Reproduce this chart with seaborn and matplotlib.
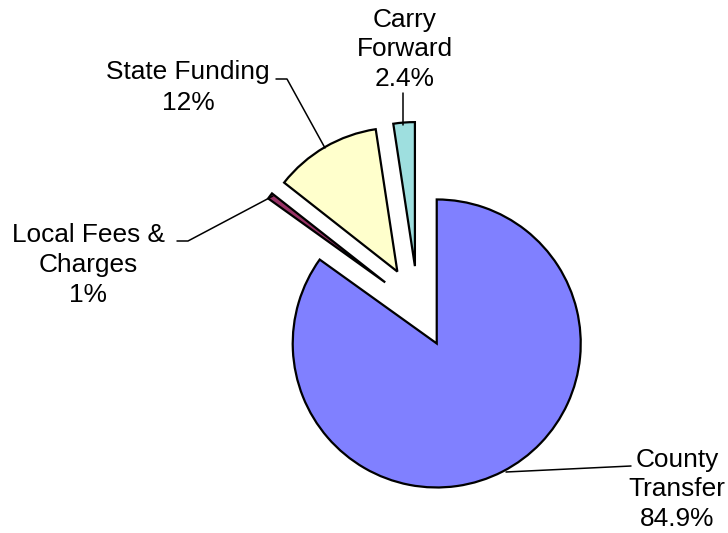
import matplotlib
matplotlib.use("Agg")
import matplotlib.pyplot as plt
import seaborn as sns

sns.set_theme(style="white")
plt.rcParams['font.family'] = ['Liberation Sans', 'DejaVu Sans']

# Data
categories = ["County Transfer", "Local Fees & Charges", "State Funding", "Carry Forward"]
values = [84.9, 0.7, 12.0, 2.4]
label_texts = [["County", "Transfer", "84.9%"],
               ["Local Fees &", "Charges", "1%"],
               ["State Funding", "12%"],
               ["Carry", "Forward", "2.4%"]]
colors = ["#8080FF", "#993366", "#FFFFCC", "#9EDFDF"]

W, H = 728, 533
fig = plt.figure(figsize=(W / 100, H / 100), dpi=100)
ax = fig.add_axes([0, 0, 1, 1])


def Y(y):
    return H - y


# matplotlib's explode is in data units (radius 144 px -> offset 41 px)
ax.pie(values, colors=colors, startangle=90, counterclock=False,
       explode=[41] * 4, center=(418, Y(307)), radius=144,
       wedgeprops=dict(edgecolor="black", linewidth=1.6))

ax.set_xlim(0, W)
ax.set_ylim(0, H)
ax.set_aspect("equal")
ax.axis("off")

fs = 18.9
# label placement: (center x, first baseline y, line spacing)
label_pos = [(677, 467, 29.5), (88, 242, 30), (188, 79, 31), (405, 27, 29.5)]
for lines, (cx, by, ls) in zip(label_texts, label_pos):
    for i, t in enumerate(lines):
        ax.text(cx, Y(by + i * ls), t, ha="center", va="baseline",
                fontsize=fs, color="black")

# leader lines
leaders = [
    [(631, 466), (506, 472)],
    [(177, 241), (188, 241), (273, 196)],
    [(276, 79), (287, 79), (325, 148)],
    [(403, 93), (403, 125)],
]
for pts in leaders:
    xs = [p[0] for p in pts]
    ys = [Y(p[1]) for p in pts]
    ax.plot(xs, ys, color="black", linewidth=1.1)

fig.savefig("out.png", dpi=100, facecolor="white")
